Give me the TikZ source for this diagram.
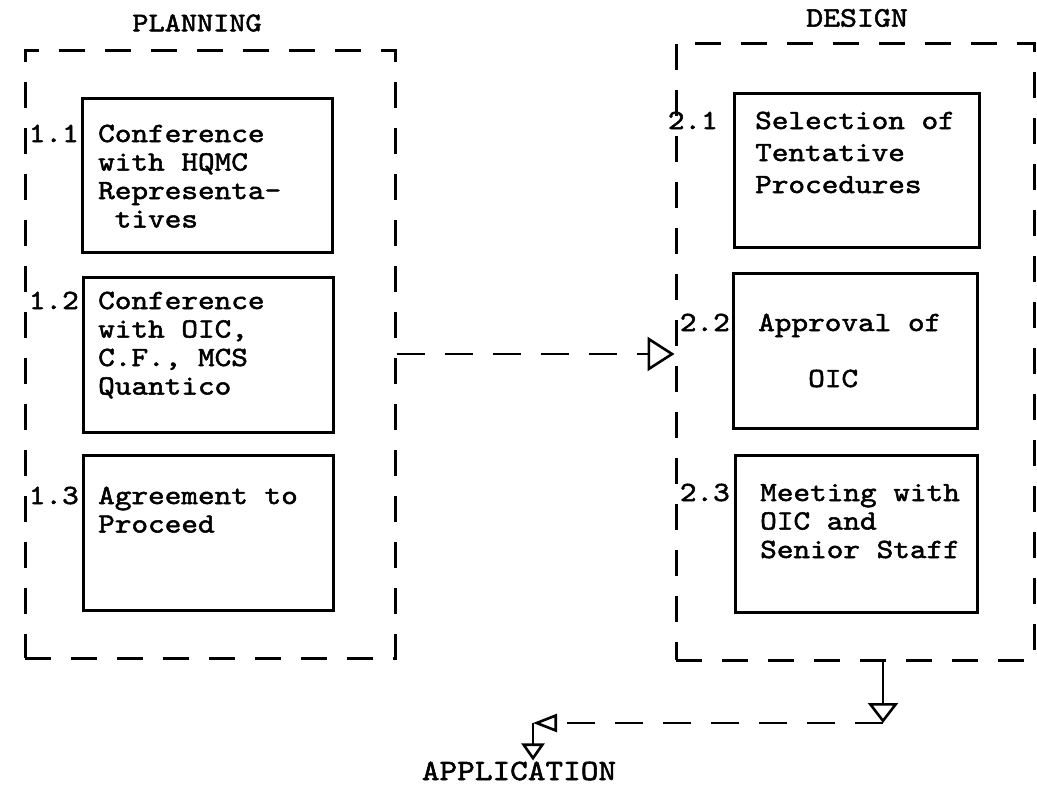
\documentclass[tikz,border=0pt]{standalone}
\usepackage{fontspec}
% typewriter face, slightly widened and darkened
\newfontfamily\tw{lmmono10-regular.otf}[FakeBold=1.8, FakeStretch=1.14]
\usetikzlibrary{arrows.meta}
% several typed lines, baseline of the block on its first line
\newcommand\stack[1]{\begin{tabular}[t]{@{}l@{}}#1\end{tabular}}

\begin{document}
\begin{tikzpicture}[x=1pt,y=-1pt,
  every node/.style={font=\tw\fontsize{27.8}{28.5}\selectfont},
  frame/.style={draw, line width=3pt, dash pattern=on 26pt off 20pt, inner sep=0pt},
  stepbox/.style={draw, line width=3pt, inner sep=0pt},
  txt/.style={anchor=base west, inner sep=0pt},
  num/.style={anchor=base east, inner sep=0pt},
  head/.style={inner sep=1pt},
  conn/.style={line width=2.6pt, dash pattern=on 28pt off 20pt},
  lead/.style={line width=2.6pt}]

\useasboundingbox[fill=white] (0,0) rectangle (1037,790);

% phase frames
\node[frame, minimum width=370pt, minimum height=608pt] (plan) at (210,354) {};
\node[frame, minimum width=358pt, minimum height=617pt] (design) at (855,351.5) {};

\node[head, font=\tw\fontsize{27}{29}\selectfont] (planhead) at (197,23) {PLANNING};
\node[head, font=\tw\fontsize{28.3}{30}\selectfont] (designhead) at (857,18) {DESIGN};

% planning steps
\node[stepbox, minimum width=250pt, minimum height=154pt] (b11) at (207,175) {};
\node[stepbox, minimum width=250pt, minimum height=155pt] (b12) at (208,354.5) {};
\node[stepbox, minimum width=250pt, minimum height=155pt] (b13) at (208,532.5) {};

\node[num] (n11) at (79,142) {1.1};
\node[num] (n12) at (79,309) {1.2};
\node[num] (n13) at (79,504) {1.3};

\node[txt] (t11) at (98,142) {\stack{Conference\\with HQMC\\Representa-\\\ tives}};
\node[txt] (t12) at (98,309) {\stack{Conference\\with OIC,\\C.F., MCS\\Quantico}};
\node[txt] (t13) at (98,504) {\stack{Agreement to\\Proceed}};

% design steps
\node[stepbox, minimum width=245pt, minimum height=154pt] (b21) at (856.5,170) {};
\node[stepbox, minimum width=244pt, minimum height=155pt] (b22) at (855,350.5) {};
\node[stepbox, minimum width=242pt, minimum height=157pt] (b23) at (856,533.5) {};

\node[num] (n21) at (718,129) {2.1};
\node[num] (n22) at (730,331) {2.2};
\node[num] (n23) at (730,501) {2.3};

\node[txt] (t21) at (755,129) {\stack{Selection of\\[3.5pt]Tentative\\[3.5pt]Procedures}};
\node[txt] (t22) at (758,331) {Approval of};
\node[txt] (t22b) at (808,387) {OIC};
\node[txt] (t23) at (760,501) {\stack{Meeting with\\OIC and\\Senior Staff}};

% planning -> design
\draw[conn, -{Triangle[open, length=27pt, width=34pt]}] (plan.east) -- (plan.east -| design.west);

% design -> application
\node[head, font=\tw\fontsize{29.5}{31}\selectfont] (app) at (519,771) {APPLICATION};
\coordinate (knee) at (883,723);
\coordinate (bend) at (533,723);
\draw[lead, -{Triangle[open, length=20pt, width=30pt]}] (design.south -| knee) -- (knee);
\draw[conn, -{Triangle[open, length=24pt, width=18pt]}] (knee) -- (bend);
\draw[lead, -{Triangle[open, length=17pt, width=23pt]}] (bend) -- (bend |- app.north);

\end{tikzpicture}
\end{document}
